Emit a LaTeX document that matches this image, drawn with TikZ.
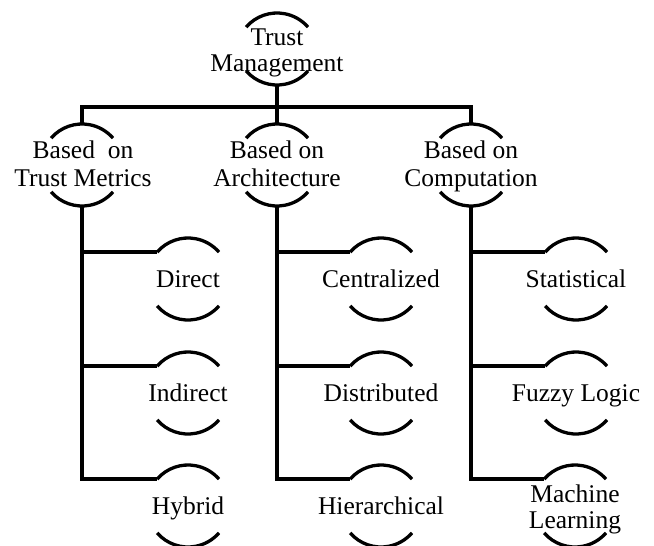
\documentclass[tikz,border=0pt]{standalone}
\usepackage{fontspec}
\setmainfont{Liberation Serif}
\usetikzlibrary{calc}
\tikzset{
  arcline/.style={line width=3.3pt},
  conn/.style={line width=4pt, line join=miter},
  lab/.style={font=\fontsize{25.5}{26}\selectfont, inner sep=0pt, align=center},
  labtwo/.style={font=\fontsize{25.5}{28.5}\selectfont, inner sep=0pt, align=center}
}
\newcommand\arcpair[2]{%
  \draw[arcline] ($(#1)+(-30.9,#2-14.1)$) coordinate (#1-tl) arc[start angle=139,end angle=41,radius=41pt];
  \draw[arcline] ($(#1)+(-30.9,-#2+14.1)$) arc[start angle=221,end angle=319,radius=41pt];
  \coordinate (#1-t) at ($(#1)+(0,#2)$);
  \coordinate (#1-b) at ($(#1)+(0,-#2)$);
}
\begin{document}
\begin{tikzpicture}[x=1pt,y=1pt]
\useasboundingbox (0,0) rectangle (654,-546);
% root
\coordinate (tmc) at (277,-49);
\node[lab, anchor=north] (tm) at (277,-29) {Trust\\Management};
\arcpair{tmc}{36}
% level 2
\coordinate (ac) at (82,-165);
\node[labtwo, anchor=north] (a) at (83,-140.6) {Based\ \ on\\Trust Metrics};
\arcpair{ac}{41}
\coordinate (bc) at (277,-165);
\node[labtwo, anchor=north] (b) at (277,-140.6) {Based on\\Architecture};
\arcpair{bc}{41}
\coordinate (cc) at (471,-165);
\node[labtwo, anchor=north] (c) at (471,-140.6) {Based on\\Computation};
\arcpair{cc}{41}
% children
\coordinate (a1c) at (188,-279);
\node[lab, anchor=base] (a1) at (188,-287) {Direct};
\arcpair{a1c}{41}
\coordinate (a2c) at (188,-393);
\node[lab, anchor=base] (a2) at (188,-401) {Indirect};
\arcpair{a2c}{41}
\coordinate (a3c) at (188,-506);
\node[lab, anchor=base] (a3) at (188,-514) {Hybrid};
\arcpair{a3c}{41}
\coordinate (b1c) at (381,-279);
\node[lab, anchor=base] (b1) at (381,-287) {Centralized};
\arcpair{b1c}{41}
\coordinate (b2c) at (381,-393);
\node[lab, anchor=base] (b2) at (381,-401) {Distributed};
\arcpair{b2c}{41}
\coordinate (b3c) at (381,-506);
\node[lab, anchor=base] (b3) at (381,-514) {Hierarchical};
\arcpair{b3c}{41}
\coordinate (c1c) at (576,-279);
\node[lab, anchor=base] (c1) at (576,-287) {Statistical};
\arcpair{c1c}{41}
\coordinate (c2c) at (576,-393);
\node[lab, anchor=base] (c2) at (576,-401) {Fuzzy Logic};
\arcpair{c2c}{41}
\coordinate (c3c) at (575,-506);
\node[lab, anchor=north] (c3) at (575,-484.6) {Machine\\Learning};
\arcpair{c3c}{41}
% connectors
\coordinate (bus) at (277,-107);
\draw[conn] (tmc-b) -- (bc-t);
\draw[conn] (ac-t) |- (bus) -| (cc-t);
\draw[conn] (ac-b) |- (a3c-tl);
\draw[conn] (a1c-tl) -- (a1c-tl -| ac-b);
\draw[conn] (a2c-tl) -- (a2c-tl -| ac-b);
\draw[conn] (bc-b) |- (b3c-tl);
\draw[conn] (b1c-tl) -- (b1c-tl -| bc-b);
\draw[conn] (b2c-tl) -- (b2c-tl -| bc-b);
\draw[conn] (cc-b) |- (c3c-tl);
\draw[conn] (c1c-tl) -- (c1c-tl -| cc-b);
\draw[conn] (c2c-tl) -- (c2c-tl -| cc-b);
\end{tikzpicture}
\end{document}
